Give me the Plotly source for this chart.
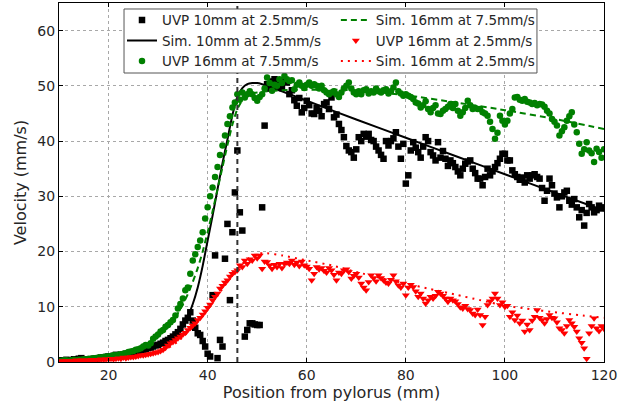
import plotly.graph_objects as go

# ---------------- data ----------------
UVP_X_START = 10.0
UVP_X_STEP = 0.5

uvp_10mm_25 = [
    0.2, 0.3, 0.2, 0.4, 0.3, 0.3, 0.5, 0.4, 0.6, 0.7,
    0.5, 0.4, 0.4, 0.5, 0.6, 0.6, 0.7, 0.8, 0.8, 0.9,
    1.0, 1.0, 1.1, 1.3, 1.2, 1.3, 1.4, 1.5, 1.5, 1.7,
    1.6, 1.8, 1.9, 2.1, 2.2, 2.3, 2.5, 2.6, 2.8, 3.0,
    3.1, 3.3, 3.5, 3.8, 4.0, 4.3, 4.6, 5.0, 5.4, 6.0,
    6.8, 7.5, 8.0, 9.0, 7.5, 6.2, 5.2, 4.9, 3.8, 2.8,
    1.5, 1.0, 12.1, 19.3, 0.7, 4.0, 2.8, 18.7, 25.0, 11.2,
    23.5, 30.7, 38.3, 27.1, 23.8, 4.6, 5.8, 7.0, 7.0, 6.8,
    6.7, 6.7, 28.0, 42.8, 50.3, 49.5, 50.8, 51.2, 49.8, 50.4,
    49.6, 50.8, 50.6, 48.5, 49.2, 47.4, 46.4, 47.8, 45.2, 46.0,
    47.3, 46.5, 45.0, 44.9, 46.0, 45.5, 44.5, 46.7, 47.0, 45.8,
    47.9, 44.3, 44.8, 43.1, 42.0, 40.7, 39.1, 38.3, 38.0, 37.0,
    38.5, 40.7, 40.0, 41.3, 40.8, 41.3, 40.2, 40.0, 39.0, 38.3,
    37.5, 36.8, 40.0, 39.2, 40.0, 40.5, 41.6, 39.0, 36.8, 39.5,
    32.3, 33.8, 38.3, 39.8, 38.8, 38.0, 37.0, 39.0, 40.7, 40.0,
    38.0, 37.4, 36.5, 39.8, 37.0, 38.2, 36.8, 35.5, 36.5, 36.0,
    35.3, 34.5, 33.8, 35.0, 35.9, 36.3, 36.5, 35.0, 34.2, 33.2,
    33.2, 32.0, 33.5, 35.0, 33.8, 34.5, 35.3, 36.0, 36.8, 37.7,
    37.7, 36.5, 36.5, 34.7, 34.0, 33.5, 33.0, 33.4, 32.5, 33.8,
    33.2, 33.8, 34.0, 33.5, 33.2, 31.5, 29.2, 31.0, 33.2, 32.0,
    30.5, 29.8, 28.0, 30.0, 30.7, 31.0, 29.2, 28.5, 29.5, 28.0,
    26.2, 27.5, 24.7, 27.0, 28.6, 28.0, 27.1, 27.5, 28.3, 27.8,
    28.0,
]

uvp_16mm_75 = [
    0.2, 0.2, 0.3, 0.3, 0.2, 0.3, 0.4, 0.3, 0.4, 0.4,
    0.5, 0.5, 0.6, 0.6, 0.7, 0.7, 0.8, 0.8, 0.9, 1.0,
    1.0, 1.1, 1.2, 1.2, 1.3, 1.4, 1.5, 1.6, 1.8, 1.9,
    2.0, 2.2, 2.3, 2.5, 2.8, 3.1, 3.0, 3.4, 4.2, 4.6,
    5.0, 5.5, 5.8, 6.4, 6.7, 7.2, 7.6, 8.4, 9.7, 10.5,
    11.5, 13.0, 13.5, 16.0, 18.4, 19.5, 20.8, 22.0, 23.5, 26.0,
    28.0, 30.0, 31.6, 33.5, 35.3, 37.5, 39.2, 41.0, 43.1, 44.5,
    46.1, 47.0, 48.5, 47.5, 48.8, 47.9, 48.5, 49.0, 48.5, 47.8,
    47.3, 48.0, 48.5, 49.5, 51.5, 50.5, 49.1, 50.2, 50.0, 51.2,
    50.5, 51.8, 51.2, 50.9, 51.0, 49.4, 50.2, 50.6, 50.0, 49.6,
    50.2, 50.6, 50.0, 50.3, 50.0, 49.5, 50.0, 49.2, 48.8, 48.5,
    48.8, 49.0, 48.5, 48.0, 48.8, 49.5, 50.0, 50.6, 49.5, 48.8,
    48.5, 49.0, 48.5, 49.2, 49.4, 48.6, 49.0, 48.8, 49.5, 49.0,
    48.8, 49.2, 49.4, 48.6, 49.0, 49.7, 50.6, 49.0, 48.6, 48.2,
    48.5, 48.2, 48.0, 47.6, 47.0, 46.8, 46.1, 46.5, 47.2, 45.8,
    45.2, 46.0, 46.5, 45.0, 44.9, 45.5, 45.8, 46.2, 46.7, 46.0,
    46.7, 45.5, 44.6, 45.2, 46.0, 47.3, 46.5, 45.8, 46.0, 45.8,
    45.8, 45.2, 45.0, 44.6, 43.5, 42.2, 40.4, 41.5, 44.6, 43.7,
    43.0, 43.7, 45.0, 45.8, 47.9, 48.0, 47.5, 47.3, 47.6, 47.1,
    47.0, 46.7, 46.9, 46.5, 46.7, 46.6, 46.2, 45.5, 45.0, 44.0,
    43.5, 42.8, 41.0, 41.8, 42.5, 43.7, 44.5, 45.2, 43.0, 41.6,
    39.5, 37.7, 38.5, 39.8, 38.3, 37.8, 36.2, 38.6, 38.0, 37.0,
    38.5,
]

uvp_16mm_25 = [
    0.1, 0.2, 0.1, 0.2, 0.2, 0.1, 0.2, 0.3, 0.2, 0.3,
    0.3, 0.2, 0.3, 0.4, 0.3, 0.4, 0.4, 0.5, 0.4, 0.5,
    0.5, 0.6, 0.5, 0.6, 0.7, 0.6, 0.8, 0.7, 0.8, 0.9,
    0.9, 1.0, 1.1, 1.2, 1.2, 1.3, 1.4, 1.5, 1.6, 1.7,
    1.8, 2.0, 2.2, 2.6, 3.0, 3.4, 3.6, 4.0, 4.3, 4.6,
    5.0, 5.3, 5.8, 6.2, 6.6, 7.0, 7.6, 8.0, 8.6, 9.2,
    9.8, 10.4, 11.2, 11.8, 12.4, 13.3, 13.8, 14.4, 14.8, 15.5,
    16.0, 16.3, 16.6, 17.5, 17.2, 18.4, 17.8, 18.6, 18.4, 19.3,
    18.8, 19.3, 16.9, 18.2, 18.1, 17.5, 16.9, 17.6, 17.2, 17.8,
    17.0, 17.8, 18.0, 17.8, 18.4, 17.6, 18.0, 17.4, 18.2, 17.5,
    17.3, 16.9, 14.8, 16.0, 17.2, 16.8, 17.0, 16.5, 16.2, 17.0,
    16.6, 15.8, 14.8, 16.2, 16.0, 16.6, 16.8, 16.3, 15.1, 15.6,
    16.0, 15.3, 14.2, 13.5, 13.0, 14.5, 15.7, 15.2, 14.6, 15.7,
    15.2, 14.8, 14.4, 14.2, 14.9, 15.7, 14.6, 13.9, 13.5, 14.2,
    12.1, 13.5, 14.0, 13.6, 12.8, 11.8, 12.4, 11.5, 10.6, 11.2,
    11.8, 11.5, 12.0, 12.7, 12.4, 12.0, 11.5, 10.9, 11.5, 11.2,
    11.0, 10.5, 9.9, 9.7, 10.2, 9.6, 9.4, 8.8, 8.5, 9.5,
    8.5, 6.7, 8.2, 10.3, 11.0, 11.5, 12.4, 11.5, 10.3, 10.8,
    10.0, 10.2, 8.2, 9.0, 7.6, 8.4, 7.0, 7.5, 5.5, 6.8,
    5.8, 7.5, 8.2, 9.4, 8.0, 7.6, 7.0, 7.8, 8.5, 8.0,
    7.9, 7.2, 6.1, 5.8, 5.2, 6.5, 7.6, 7.0, 6.4, 5.5,
    4.3, 3.5, 2.5, 0.6, 5.2, 6.5, 7.9, 6.1, 5.6, 6.5,
    6.0,
]

sim_10mm_25_x = [10, 15, 20, 22, 24, 26, 28, 30, 32, 34, 35, 36, 37, 38, 39, 40, 41, 42,
                 43, 44, 45, 46, 47, 48, 49, 50, 51, 52, 55, 60, 70, 80, 90, 100, 110, 120]
sim_10mm_25_y = [0.2, 0.4, 0.8, 1.0, 1.3, 1.7, 2.2, 3.0, 4.0, 5.4, 6.4, 8.2, 10.5, 13.5, 17.4,
                 22.0, 26.5, 31.3, 36.0, 40.3, 44.7, 48.0, 49.6, 50.3, 50.5, 50.5, 50.3, 50.0,
                 49.0, 47.3, 43.9, 40.6, 37.3, 34.0, 30.7, 27.4]

sim_16mm_75_x = [10, 15, 20, 24, 26, 28, 30, 32, 34, 35, 36, 37, 38, 39, 40, 41, 42, 43, 44,
                 45, 46, 47, 48, 49, 50, 52, 55, 60, 65, 70, 80, 90, 100, 110, 120]
sim_16mm_75_y = [0.2, 0.5, 1.0, 1.7, 2.3, 3.2, 4.6, 6.4, 8.8, 10.4, 12.3, 14.5, 17.0, 20.0,
                 23.5, 27.3, 31.3, 35.3, 39.3, 43.0, 45.8, 47.4, 48.2, 48.6, 48.8, 49.0, 49.2,
                 49.3, 49.3, 49.2, 48.3, 47.0, 45.6, 44.0, 42.2]

sim_16mm_25_x = [10, 15, 20, 25, 28, 30, 32, 34, 36, 38, 40, 42, 44, 46, 48, 50, 52, 55, 60,
                 65, 70, 75, 80, 85, 90, 95, 100, 105, 110, 115, 120]
sim_16mm_25_y = [0.1, 0.2, 0.4, 0.8, 1.2, 1.7, 2.5, 3.7, 5.4, 7.3, 9.5, 12.0, 14.5, 16.8, 18.6,
                 19.6, 19.7, 19.3, 18.4, 17.5, 16.3, 15.2, 14.2, 13.2, 12.2, 11.2, 10.2, 9.6,
                 9.0, 8.5, 8.0]

PYLORUS_MARK_X = 46  # vertical dashed reference line (mm)

X_TICKS = [20, 40, 60, 80, 100, 120]
Y_TICKS = [0, 10, 20, 30, 40, 50, 60]
X_RANGE = [10, 120]
Y_RANGE = [0, 65]


def uvp_x(values):
    return [UVP_X_START + i * UVP_X_STEP for i in range(len(values))]


FONT = "DejaVu Sans"
BLACK = "#000000"
GREEN = "#008000"
RED = "#ff0000"
TEXT = "#262626"

fig = go.Figure()

fig.add_trace(go.Scatter(
    x=uvp_x(uvp_10mm_25), y=uvp_10mm_25, mode="markers",
    name="UVP 10mm at 2.5mm/s", legend="legend",
    marker=dict(symbol="square", size=6.5, color=BLACK, line=dict(width=0)),
))
fig.add_trace(go.Scatter(
    x=sim_10mm_25_x, y=sim_10mm_25_y, mode="lines",
    name="Sim. 10mm at 2.5mm/s", legend="legend",
    line=dict(color=BLACK, width=2, shape="spline", smoothing=0.6),
))
fig.add_trace(go.Scatter(
    x=uvp_x(uvp_16mm_75), y=uvp_16mm_75, mode="markers",
    name="UVP 16mm at 7.5mm/s", legend="legend",
    marker=dict(symbol="circle", size=6.5, color=GREEN, line=dict(width=0)),
))
fig.add_trace(go.Scatter(
    x=sim_16mm_75_x, y=sim_16mm_75_y, mode="lines",
    name="Sim. 16mm at 7.5mm/s", legend="legend2",
    line=dict(color=GREEN, width=2, dash="6px,4px", shape="spline", smoothing=0.6),
))
fig.add_trace(go.Scatter(
    x=uvp_x(uvp_16mm_25), y=uvp_16mm_25, mode="markers",
    name="UVP 16mm at 2.5mm/s", legend="legend2",
    marker=dict(symbol="triangle-down", size=7, color=RED, line=dict(width=0)),
))
fig.add_trace(go.Scatter(
    x=sim_16mm_25_x, y=sim_16mm_25_y, mode="lines",
    name="Sim. 16mm at 2.5mm/s", legend="legend2",
    line=dict(color=RED, width=2, dash="2px,5px", shape="spline", smoothing=0.6),
))

# vertical dashed reference line
fig.add_shape(type="line", xref="x", yref="paper",
              x0=PYLORUS_MARK_X, x1=PYLORUS_MARK_X, y0=0, y1=1,
              line=dict(color="#333333", width=2, dash="5px,4px"))

# legend frame enclosing both legend columns
fig.add_shape(type="rect", xref="paper", yref="paper",
              x0=0.1193, x1=0.877, y0=0.805, y1=0.9833, layer="above",
              fillcolor="white", line=dict(color="#555555", width=1))

axis_common = dict(
    showline=True, linecolor=BLACK, linewidth=1, mirror="ticks",
    ticks="inside", ticklen=4, tickcolor=BLACK,
    showgrid=True, gridcolor="#a8a8a8", griddash="dot", gridwidth=1,
    zeroline=False,
    tickfont=dict(family=FONT, size=14, color=TEXT),
)

legend_common = dict(
    orientation="v", yanchor="top", xanchor="left",
    bgcolor="rgba(0,0,0,0)", borderwidth=0,
    font=dict(family=FONT, size=13.5, color=TEXT),
    itemwidth=30, tracegroupgap=0,
)

fig.update_layout(
    width=639, height=407,
    margin=dict(l=59, r=35, t=3, b=45),
    paper_bgcolor="white", plot_bgcolor="white",
    font=dict(family=FONT, size=14, color=TEXT),
    xaxis=dict(range=X_RANGE, tickvals=X_TICKS,
               title=dict(text="Position from pylorus (mm)", font=dict(size=16), standoff=4),
               **axis_common),
    yaxis=dict(range=Y_RANGE, tickvals=Y_TICKS,
               title=dict(text="Velocity (mm/s)", font=dict(size=16), standoff=6),
               **axis_common),
    legend=dict(x=0.1156, y=0.9953, **legend_common),
    legend2=dict(x=0.508, y=0.9953, **legend_common),
)

fig.write_html("out.html", config={"displayModeBar": False},
               post_script="document.body.style.margin='0';")
